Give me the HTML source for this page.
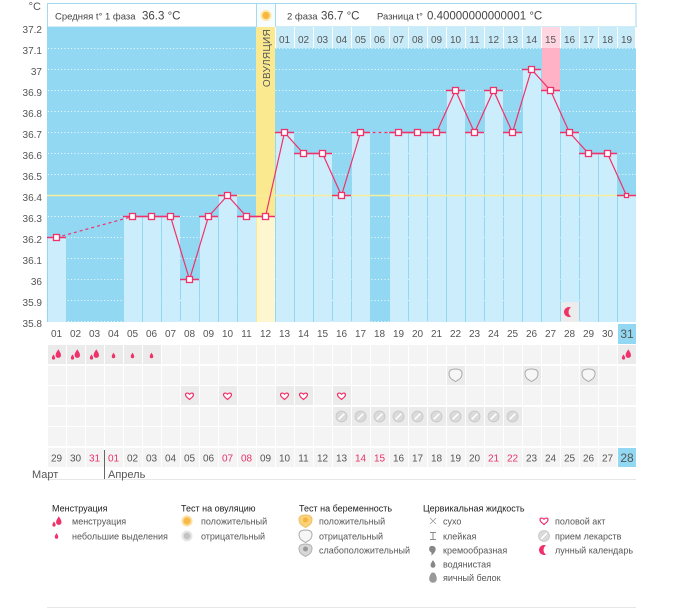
<!DOCTYPE html>
<html><head><meta charset="utf-8"><style>
html,body{margin:0;padding:0;background:#fff;}
svg{display:block;font-family:"Liberation Sans","DejaVu Sans",sans-serif;}
</style></head><body>
<svg width="675" height="608" viewBox="0 0 675 608" xmlns="http://www.w3.org/2000/svg">
<defs>
<path id="dr" d="M0,-4.5 C0.8,-2.8 2.7,-1 2.7,1.5 A2.7,2.7 0 0 1 -2.7,1.5 C-2.7,-1 -0.8,-2.8 0,-4.5Z" fill="#f0326b"/>
<g id="mb"><use href="#dr" transform="translate(1.8,-0.8)"/><use href="#dr" transform="translate(-3,2.6) scale(0.6)"/></g>
<g id="ms"><use href="#dr" transform="scale(0.65)"/></g>
<path id="ht" d="M0,3.5 C-2,1.8 -4,0.5 -4,-1.3 C-4,-3 -1.5,-3.7 0,-1.8 C1.5,-3.7 4,-3 4,-1.3 C4,0.5 2,1.8 0,3.5Z" fill="#fff" stroke="#f0326b" stroke-width="1.2"/>
<g id="pl"><circle r="5.5" fill="#dadada" stroke="#c6c6c6" stroke-width="0.8"/><path d="M-2.8,2.8 L2.8,-2.8" stroke="#fff" stroke-width="1.6"/></g>
<path id="pn" d="M-6.5,-1.5 Q-6.5,-6 0,-6 Q6.5,-6 6.5,-1.5 Q6.5,3 2.5,5 L0,6.5 L-2.5,5 Q-6.5,3 -6.5,-1.5Z" fill="#f6f6f6" stroke="#aaa" stroke-width="1"/>
<path id="mn" d="M2,-4.58 A5,5 0 1 0 2,4.58 A5.5,5.5 0 0 1 2,-4.58Z" fill="#f0326b"/>
</defs>

<!-- header -->
<text x="41" y="10" font-size="11" fill="#555" text-anchor="end">°C</text>
<rect x="47.5" y="3.5" width="588.5" height="23.5" fill="#fff" stroke="#a3daef"/>
<rect x="256" y="4" width="19" height="23" fill="#f7fcfe"/>
<path d="M256.5,3.5V27 M275.5,3.5V27" stroke="#a3daef"/>
<circle cx="266" cy="15.5" r="5.5" fill="#fde5a5"/>
<circle cx="266" cy="15.5" r="3.6" fill="#f7b73e"/>
<text y="19.5" fill="#444" font-size="9.5"><tspan x="55">Средняя t° 1 фаза</tspan><tspan x="142" font-size="11.5">36.3 °C</tspan></text>
<text y="19.5" fill="#444" font-size="9.5"><tspan x="287">2 фаза</tspan><tspan x="321" font-size="11.5">36.7 °C</tspan></text>
<text y="19.5" fill="#444" font-size="9.5"><tspan x="377">Разница t°</tspan><tspan x="427" font-size="11.5">0.40000000000001 °C</tspan></text>

<!-- chart bg -->
<rect x="47" y="27" width="589" height="295" fill="#93d8f2"/>
<rect x="275" y="27" width="361" height="21" fill="#c8ebfa"/>
<rect x="542" y="27" width="18" height="21" fill="#ffd6e1"/>
<path d="M275.5,27V48 M294.5,27V48 M313.5,27V48 M332.5,27V48 M351.5,27V48 M370.5,27V48 M389.5,27V48 M408.5,27V48 M427.5,27V48 M446.5,27V48 M465.5,27V48 M484.5,27V48 M503.5,27V48 M522.5,27V48 M541.5,27V48 M560.5,27V48 M579.5,27V48 M598.5,27V48 M617.5,27V48 M635.5,27V48" stroke="#fff" stroke-width="1"/>
<g font-size="10" fill="#555" text-anchor="middle">
<text x="284.5" y="43">01</text><text x="303.5" y="43">02</text><text x="322.5" y="43">03</text><text x="341.5" y="43">04</text><text x="360.5" y="43">05</text><text x="379.5" y="43">06</text><text x="398.5" y="43">07</text><text x="417.5" y="43">08</text><text x="436.5" y="43">09</text><text x="455.5" y="43">10</text><text x="474.5" y="43">11</text><text x="493.5" y="43">12</text><text x="512.5" y="43">13</text><text x="531.5" y="43">14</text><text x="550.5" y="43">15</text><text x="569.5" y="43">16</text><text x="588.5" y="43">17</text><text x="607.5" y="43">18</text><text x="626.5" y="43">19</text>
</g>

<!-- gridlines -->
<path d="M48,48.5H636 M48,69.5H636 M48,90.5H636 M48,111.5H636 M48,132.5H636 M48,153.5H636 M48,174.5H636 M48,195.5H636 M48,216.5H636 M48,237.5H636 M48,258.5H636 M48,279.5H636 M48,300.5H636 M48,321.5H636" stroke="#fff" stroke-width="1" stroke-dasharray="1 2.3" opacity="0.9"/>

<!-- ovulation column -->
<rect x="256" y="27" width="19" height="295" fill="#fbe98f"/>
<rect x="257" y="216.5" width="18" height="105.5" fill="#fef6cf"/>
<text transform="translate(270,58) rotate(-90)" font-size="10" fill="#555" text-anchor="middle" letter-spacing="0.3">ОВУЛЯЦИЯ</text>
<!-- pink column -->
<rect x="542" y="48" width="18" height="42.5" fill="#ffb1c5"/>

<!-- bars -->
<g fill="#ccedfb">
<rect x="48" y="237.5" width="18" height="84.5"/>
<rect x="124" y="216.5" width="18" height="105.5"/>
<rect x="143" y="216.5" width="18" height="105.5"/>
<rect x="162" y="216.5" width="18" height="105.5"/>
<rect x="181" y="279.5" width="18" height="42.5"/>
<rect x="200" y="216.5" width="18" height="105.5"/>
<rect x="219" y="195.5" width="18" height="126.5"/>
<rect x="238" y="216.5" width="18" height="105.5"/>
<rect x="276" y="132.5" width="18" height="189.5"/>
<rect x="295" y="153.5" width="18" height="168.5"/>
<rect x="314" y="153.5" width="18" height="168.5"/>
<rect x="333" y="195.5" width="18" height="126.5"/>
<rect x="352" y="132.5" width="18" height="189.5"/>
<rect x="390" y="132.5" width="18" height="189.5"/>
<rect x="409" y="132.5" width="18" height="189.5"/>
<rect x="428" y="132.5" width="18" height="189.5"/>
<rect x="447" y="90.5" width="18" height="231.5"/>
<rect x="466" y="132.5" width="18" height="189.5"/>
<rect x="485" y="90.5" width="18" height="231.5"/>
<rect x="504" y="132.5" width="18" height="189.5"/>
<rect x="523" y="69.5" width="18" height="252.5"/>
<rect x="542" y="90.5" width="18" height="231.5"/>
<rect x="561" y="132.5" width="18" height="189.5"/>
<rect x="580" y="153.5" width="18" height="168.5"/>
<rect x="599" y="153.5" width="18" height="168.5"/>
<rect x="618" y="195.5" width="18" height="126.5"/>
</g>

<!-- coverline -->
<path d="M47,195.5H636" stroke="#f6ee9c" stroke-width="1.5"/>

<!-- moon in chart -->
<rect x="561" y="302" width="18" height="20" fill="#ececec"/>
<use href="#mn" x="569" y="312"/>

<!-- level lines -->
<path d="M47,237.5H66 M123,216.5H180 M180,279.5H199 M199,216.5H218 M218,195.5H237 M237,216.5H275 M275,132.5H294 M294,153.5H332 M332,195.5H351 M351,132.5H370 M389,132.5H446 M446,90.5H465 M465,132.5H484 M484,90.5H503 M503,132.5H522 M522,69.5H541 M541,90.5H560 M560,132.5H579 M579,153.5H617 M617,195.5H636" stroke="#f0326b" stroke-width="1.5" fill="none"/>
<!-- connecting lines -->
<path d="M56.5,237.5 L132.5,216.5 M360.5,132.5 L398.5,132.5" stroke="#f0326b" stroke-width="1.2" stroke-dasharray="3 3" fill="none"/>
<polyline points="132.5,216.5 151.5,216.5 170.5,216.5 189.5,279.5 208.5,216.5 227.5,195.5 246.5,216.5 265.5,216.5 284.5,132.5 303.5,153.5 322.5,153.5 341.5,195.5 360.5,132.5" stroke="#f0326b" stroke-width="1.2" fill="none"/>
<polyline points="398.5,132.5 417.5,132.5 436.5,132.5 455.5,90.5 474.5,132.5 493.5,90.5 512.5,132.5 531.5,69.5 550.5,90.5 569.5,132.5 588.5,153.5 607.5,153.5 626.5,195.5" stroke="#f0326b" stroke-width="1.2" fill="none"/>
<!-- markers -->
<g fill="#fff" stroke="#f0326b" stroke-width="1.3">
<rect x="53.5" y="234.5" width="6" height="6"/>
<rect x="129.5" y="213.5" width="6" height="6"/>
<rect x="148.5" y="213.5" width="6" height="6"/>
<rect x="167.5" y="213.5" width="6" height="6"/>
<rect x="186.5" y="276.5" width="6" height="6"/>
<rect x="205.5" y="213.5" width="6" height="6"/>
<rect x="224.5" y="192.5" width="6" height="6"/>
<rect x="243.5" y="213.5" width="6" height="6"/>
<rect x="262.5" y="213.5" width="6" height="6"/>
<rect x="281.5" y="129.5" width="6" height="6"/>
<rect x="300.5" y="150.5" width="6" height="6"/>
<rect x="319.5" y="150.5" width="6" height="6"/>
<rect x="338.5" y="192.5" width="6" height="6"/>
<rect x="357.5" y="129.5" width="6" height="6"/>
<rect x="395.5" y="129.5" width="6" height="6"/>
<rect x="414.5" y="129.5" width="6" height="6"/>
<rect x="433.5" y="129.5" width="6" height="6"/>
<rect x="452.5" y="87.5" width="6" height="6"/>
<rect x="471.5" y="129.5" width="6" height="6"/>
<rect x="490.5" y="87.5" width="6" height="6"/>
<rect x="509.5" y="129.5" width="6" height="6"/>
<rect x="528.5" y="66.5" width="6" height="6"/>
<rect x="547.5" y="87.5" width="6" height="6"/>
<rect x="566.5" y="129.5" width="6" height="6"/>
<rect x="585.5" y="150.5" width="6" height="6"/>
<rect x="604.5" y="150.5" width="6" height="6"/>
<rect x="624.5" y="193.5" width="4" height="4"/>
</g>

<!-- y axis labels -->
<g font-size="10" fill="#555" text-anchor="end">
<text x="42" y="33">37.2</text><text x="42" y="54">37.1</text><text x="42" y="75">37</text><text x="42" y="96">36.9</text><text x="42" y="117">36.8</text><text x="42" y="138">36.7</text><text x="42" y="159">36.6</text><text x="42" y="180">36.5</text><text x="42" y="201">36.4</text><text x="42" y="222">36.3</text><text x="42" y="243">36.2</text><text x="42" y="264">36.1</text><text x="42" y="285">36</text><text x="42" y="306">35.9</text><text x="42" y="327">35.8</text>
</g>

<!-- day row -->
<rect x="618" y="324" width="18" height="20" fill="#93d8f2"/>
<g font-size="10" fill="#555" text-anchor="middle">
<text x="56.5" y="337">01</text><text x="75.5" y="337">02</text><text x="94.5" y="337">03</text><text x="113.5" y="337">04</text><text x="132.5" y="337">05</text><text x="151.5" y="337">06</text><text x="170.5" y="337">07</text><text x="189.5" y="337">08</text><text x="208.5" y="337">09</text><text x="227.5" y="337">10</text><text x="246.5" y="337">11</text><text x="265.5" y="337">12</text><text x="284.5" y="337">13</text><text x="303.5" y="337">14</text><text x="322.5" y="337">15</text><text x="341.5" y="337">16</text><text x="360.5" y="337">17</text><text x="379.5" y="337">18</text><text x="398.5" y="337">19</text><text x="417.5" y="337">20</text><text x="436.5" y="337">21</text><text x="455.5" y="337">22</text><text x="474.5" y="337">23</text><text x="493.5" y="337">24</text><text x="512.5" y="337">25</text><text x="531.5" y="337">26</text><text x="550.5" y="337">27</text><text x="569.5" y="337">28</text><text x="588.5" y="337">29</text><text x="607.5" y="337">30</text><text x="627" y="338" font-size="12">31</text>
</g>

<!-- grid rows -->
<g fill="#f4f4f4">
<rect x="47" y="345" width="589" height="19"/>
<rect x="47" y="366" width="589" height="19"/>
<rect x="47" y="386" width="589" height="19"/>
<rect x="47" y="407" width="589" height="19"/>
<rect x="47" y="427" width="589" height="19"/>
<rect x="47" y="448" width="589" height="19"/>
</g>
<!-- icon cell bg -->
<g fill="#ebebeb">
<rect x="48" y="345" width="18" height="19"/><rect x="67" y="345" width="18" height="19"/><rect x="86" y="345" width="18" height="19"/><rect x="105" y="345" width="18" height="19"/><rect x="124" y="345" width="18" height="19"/><rect x="143" y="345" width="18" height="19"/><rect x="618" y="345" width="18" height="19"/>
<rect x="447" y="366" width="18" height="19"/><rect x="523" y="366" width="18" height="19"/><rect x="580" y="366" width="18" height="19"/>
<rect x="181" y="386" width="18" height="19"/><rect x="219" y="386" width="18" height="19"/><rect x="276" y="386" width="18" height="19"/><rect x="295" y="386" width="18" height="19"/><rect x="333" y="386" width="18" height="19"/>
<rect x="333" y="407" width="18" height="19"/><rect x="352" y="407" width="18" height="19"/><rect x="371" y="407" width="18" height="19"/><rect x="390" y="407" width="18" height="19"/><rect x="409" y="407" width="18" height="19"/><rect x="428" y="407" width="18" height="19"/><rect x="447" y="407" width="18" height="19"/><rect x="466" y="407" width="18" height="19"/><rect x="485" y="407" width="18" height="19"/><rect x="504" y="407" width="18" height="19"/>
</g>
<rect x="618" y="448" width="18" height="19" fill="#93d8f2"/>
<path d="M47.5,345V467 M66.5,345V467 M85.5,345V467 M104.5,345V467 M123.5,345V467 M142.5,345V467 M161.5,345V467 M180.5,345V467 M199.5,345V467 M218.5,345V467 M237.5,345V467 M256.5,345V467 M275.5,345V467 M294.5,345V467 M313.5,345V467 M332.5,345V467 M351.5,345V467 M370.5,345V467 M389.5,345V467 M408.5,345V467 M427.5,345V467 M446.5,345V467 M465.5,345V467 M484.5,345V467 M503.5,345V467 M522.5,345V467 M541.5,345V467 M560.5,345V467 M579.5,345V467 M598.5,345V467 M617.5,345V467" stroke="#fff" stroke-width="1"/>

<!-- row icons -->
<use href="#mb" x="56.5" y="354.5"/><use href="#mb" x="75.5" y="354.5"/><use href="#mb" x="94.5" y="354.5"/><use href="#mb" x="626.5" y="354.5"/>
<use href="#ms" x="113.5" y="355.5"/><use href="#ms" x="132.5" y="355.5"/><use href="#ms" x="151.5" y="355.5"/>
<use href="#pn" x="455.5" y="375"/><use href="#pn" x="531.5" y="375"/><use href="#pn" x="588.5" y="375"/>
<use href="#ht" x="189.5" y="396"/><use href="#ht" x="227.5" y="396"/><use href="#ht" x="284.5" y="396"/><use href="#ht" x="303.5" y="396"/><use href="#ht" x="341.5" y="396"/>
<use href="#pl" x="341.5" y="416.5"/><use href="#pl" x="360.5" y="416.5"/><use href="#pl" x="379.5" y="416.5"/><use href="#pl" x="398.5" y="416.5"/><use href="#pl" x="417.5" y="416.5"/><use href="#pl" x="436.5" y="416.5"/><use href="#pl" x="455.5" y="416.5"/><use href="#pl" x="474.5" y="416.5"/><use href="#pl" x="493.5" y="416.5"/><use href="#pl" x="512.5" y="416.5"/>

<!-- date row -->
<g font-size="10" fill="#555" text-anchor="middle">
<text x="56.5" y="461.5">29</text><text x="75.5" y="461.5">30</text><text x="94.5" y="461.5" fill="#e8336a">31</text><text x="113.5" y="461.5" fill="#e8336a">01</text><text x="132.5" y="461.5">02</text><text x="151.5" y="461.5">03</text><text x="170.5" y="461.5">04</text><text x="189.5" y="461.5">05</text><text x="208.5" y="461.5">06</text><text x="227.5" y="461.5" fill="#e8336a">07</text><text x="246.5" y="461.5" fill="#e8336a">08</text><text x="265.5" y="461.5">09</text><text x="284.5" y="461.5">10</text><text x="303.5" y="461.5">11</text><text x="322.5" y="461.5">12</text><text x="341.5" y="461.5">13</text><text x="360.5" y="461.5" fill="#e8336a">14</text><text x="379.5" y="461.5" fill="#e8336a">15</text><text x="398.5" y="461.5">16</text><text x="417.5" y="461.5">17</text><text x="436.5" y="461.5">18</text><text x="455.5" y="461.5">19</text><text x="474.5" y="461.5">20</text><text x="493.5" y="461.5" fill="#e8336a">21</text><text x="512.5" y="461.5" fill="#e8336a">22</text><text x="531.5" y="461.5">23</text><text x="550.5" y="461.5">24</text><text x="569.5" y="461.5">25</text><text x="588.5" y="461.5">26</text><text x="607.5" y="461.5">27</text><text x="627" y="462" font-size="12">28</text>
</g>
<!-- months -->
<path d="M104.5,450V479" stroke="#666" stroke-width="1"/>
<path d="M47,479.5H636" stroke="#e6e6e6" stroke-width="1"/>
<text x="32" y="478" font-size="11" fill="#555">Март</text>
<text x="108" y="478" font-size="11" fill="#555">Апрель</text>

<!-- legend -->
<g font-size="9" fill="#222">
<text x="52" y="511.5">Менструация</text>
<text x="181" y="511.5">Тест на овуляцию</text>
<text x="299" y="511.5">Тест на беременность</text>
<text x="423" y="511.5">Цервикальная жидкость</text>
</g>
<g font-size="9" fill="#555">
<text x="72" y="524.5">менструация</text>
<text x="72" y="539.5">небольшие выделения</text>
<text x="201" y="524.5">положительный</text>
<text x="201" y="539.5">отрицательный</text>
<text x="319" y="524.5">положительный</text>
<text x="319" y="539.5">отрицательный</text>
<text x="319" y="553.5">слабоположительный</text>
<text x="443" y="524.5">сухо</text>
<text x="443" y="539.5">клейкая</text>
<text x="443" y="553.5">кремообразная</text>
<text x="443" y="567.5">водянистая</text>
<text x="443" y="581">яичный белок</text>
<text x="555" y="524.5">половой акт</text>
<text x="555" y="539.5">прием лекарств</text>
<text x="555" y="553.5">лунный календарь</text>
</g>
<use href="#mb" x="57" y="521.5"/>
<use href="#ms" x="56.5" y="536"/>
<circle cx="187" cy="521" r="5.5" fill="#fde0a0"/><circle cx="187" cy="521" r="3.6" fill="#f7b94a"/>
<circle cx="187" cy="536" r="5.5" fill="#e6e6e6"/><circle cx="187" cy="536" r="3.4" fill="#c4c4c4"/>
<path d="M-6.5,-1.5 Q-6.5,-6 0,-6 Q6.5,-6 6.5,-1.5 Q6.5,3 2.5,5 L0,6.5 L-2.5,5 Q-6.5,3 -6.5,-1.5Z" transform="translate(305.5,521)" fill="#fbd27a" stroke="#f0c060" stroke-width="1"/>
<circle cx="305.5" cy="520" r="2.5" fill="#f5b340"/>
<use href="#pn" x="305.5" y="536"/>
<path d="M-6.5,-1.5 Q-6.5,-6 0,-6 Q6.5,-6 6.5,-1.5 Q6.5,3 2.5,5 L0,6.5 L-2.5,5 Q-6.5,3 -6.5,-1.5Z" transform="translate(305.5,550)" fill="#d8d8d8" stroke="#b0b0b0" stroke-width="1"/>
<circle cx="305.5" cy="549" r="2.5" fill="#999"/>
<path d="M430,518 L436,524 M430,524 L436,518" stroke="#999" stroke-width="0.8"/>
<path d="M430,532.5H436 M433,532.5V539.5 M430,539.5H436" stroke="#888" stroke-width="1"/>
<path d="M431,546 C436,545 437,550 434,553 C433,554.5 432,555 431,555.5 C432.5,553 431,552 430,551.5 C428.5,549.5 429,546.5 431,546Z" fill="#888"/>
<path d="M0,-4.5 C0.8,-2.8 2.7,-1 2.7,1.5 A2.7,2.7 0 0 1 -2.7,1.5 C-2.7,-1 -0.8,-2.8 0,-4.5Z" transform="translate(433,564) scale(0.9)" fill="#888"/>
<path d="M0,-5.5 C2.5,-5.5 3.8,-1.5 3.8,1 A3.8,3.8 0 0 1 -3.8,1 C-3.8,-1.5 -2.5,-5.5 0,-5.5Z" transform="translate(433,578)" fill="#999"/>
<use href="#ht" x="544" y="521"/>
<use href="#pl" x="544" y="536"/>
<use href="#mn" x="544" y="550"/>
<path d="M47,607.5H636" stroke="#e6e6e6" stroke-width="1"/>
</svg>
</body></html>
